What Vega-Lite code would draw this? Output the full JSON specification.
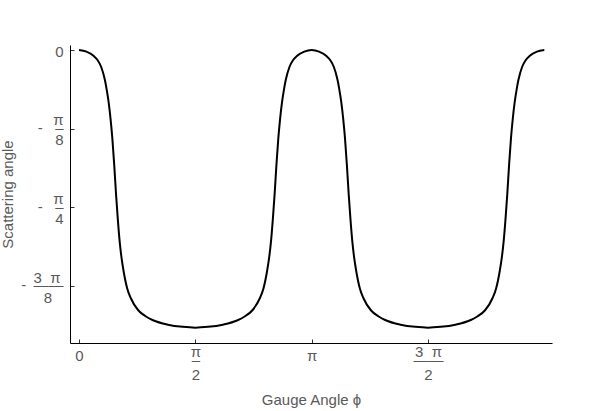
{
  "$schema": "https://vega.github.io/schema/vega-lite/v6.json",
  "width": 482,
  "height": 298,
  "autosize": {"type": "none"},
  "padding": {"left": 70, "top": 45, "right": 48, "bottom": 68},
  "background": "white",
  "config": {"view": {"stroke": null}},
  "data": {"values": [
    {"phi": 0, "theta": 0}, {"phi": 0.1, "theta": -0.008}, {"phi": 0.2, "theta": -0.03}, {"phi": 0.25, "theta": -0.05}, {"phi": 0.3, "theta": -0.085}, {"phi": 0.35, "theta": -0.15}, {"phi": 0.375, "theta": -0.2}, {"phi": 0.4, "theta": -0.26}, {"phi": 0.425, "theta": -0.34}, {"phi": 0.45, "theta": -0.44}, {"phi": 0.475, "theta": -0.57}, {"phi": 0.5, "theta": -0.72}, {"phi": 0.525, "theta": -0.85}, {"phi": 0.55, "theta": -0.96}, {"phi": 0.575, "theta": -1.04}, {"phi": 0.6, "theta": -1.1}, {"phi": 0.65, "theta": -1.19}, {"phi": 0.7, "theta": -1.24}, {"phi": 0.8, "theta": -1.3}, {"phi": 0.9, "theta": -1.33}, {"phi": 1.0, "theta": -1.35}, {"phi": 1.2, "theta": -1.372}, {"phi": 1.4, "theta": -1.383}, {"phi": 1.5708, "theta": -1.387},
    {"phi": 1.7416, "theta": -1.383}, {"phi": 1.9416, "theta": -1.372}, {"phi": 2.1416, "theta": -1.35}, {"phi": 2.2416, "theta": -1.33}, {"phi": 2.3416, "theta": -1.3}, {"phi": 2.4416, "theta": -1.24}, {"phi": 2.4916, "theta": -1.19}, {"phi": 2.5416, "theta": -1.1}, {"phi": 2.5666, "theta": -1.04}, {"phi": 2.5916, "theta": -0.96}, {"phi": 2.6166, "theta": -0.85}, {"phi": 2.6416, "theta": -0.72}, {"phi": 2.6666, "theta": -0.57}, {"phi": 2.6916, "theta": -0.44}, {"phi": 2.7166, "theta": -0.34}, {"phi": 2.7416, "theta": -0.26}, {"phi": 2.7666, "theta": -0.2}, {"phi": 2.7916, "theta": -0.15}, {"phi": 2.8416, "theta": -0.085}, {"phi": 2.8916, "theta": -0.05}, {"phi": 2.9416, "theta": -0.03}, {"phi": 3.0416, "theta": -0.008}, {"phi": 3.1416, "theta": 0},
    {"phi": 3.2416, "theta": -0.008}, {"phi": 3.3416, "theta": -0.03}, {"phi": 3.3916, "theta": -0.05}, {"phi": 3.4416, "theta": -0.085}, {"phi": 3.4916, "theta": -0.15}, {"phi": 3.5166, "theta": -0.2}, {"phi": 3.5416, "theta": -0.26}, {"phi": 3.5666, "theta": -0.34}, {"phi": 3.5916, "theta": -0.44}, {"phi": 3.6166, "theta": -0.57}, {"phi": 3.6416, "theta": -0.72}, {"phi": 3.6666, "theta": -0.85}, {"phi": 3.6916, "theta": -0.96}, {"phi": 3.7166, "theta": -1.04}, {"phi": 3.7416, "theta": -1.1}, {"phi": 3.7916, "theta": -1.19}, {"phi": 3.8416, "theta": -1.24}, {"phi": 3.9416, "theta": -1.3}, {"phi": 4.0416, "theta": -1.33}, {"phi": 4.1416, "theta": -1.35}, {"phi": 4.3416, "theta": -1.372}, {"phi": 4.5416, "theta": -1.383}, {"phi": 4.7124, "theta": -1.387},
    {"phi": 4.8832, "theta": -1.383}, {"phi": 5.0832, "theta": -1.372}, {"phi": 5.2832, "theta": -1.35}, {"phi": 5.3832, "theta": -1.33}, {"phi": 5.4832, "theta": -1.3}, {"phi": 5.5832, "theta": -1.24}, {"phi": 5.6332, "theta": -1.19}, {"phi": 5.6832, "theta": -1.1}, {"phi": 5.7082, "theta": -1.04}, {"phi": 5.7332, "theta": -0.96}, {"phi": 5.7582, "theta": -0.85}, {"phi": 5.7832, "theta": -0.72}, {"phi": 5.8082, "theta": -0.57}, {"phi": 5.8332, "theta": -0.44}, {"phi": 5.8582, "theta": -0.34}, {"phi": 5.8832, "theta": -0.26}, {"phi": 5.9082, "theta": -0.2}, {"phi": 5.9332, "theta": -0.15}, {"phi": 5.9832, "theta": -0.085}, {"phi": 6.0332, "theta": -0.05}, {"phi": 6.0832, "theta": -0.03}, {"phi": 6.1832, "theta": -0.008}, {"phi": 6.2832, "theta": 0}
  ]},
  "mark": {"type": "line", "color": "#000000", "strokeWidth": 2, "interpolate": "monotone", "clip": true},
  "encoding": {
    "x": {
      "field": "phi", "type": "quantitative",
      "scale": {"domain": [-0.1215, 6.387], "nice": false, "zero": false},
      "axis": {
        "values": [0, 1.570796, 3.141593, 4.712389],
        "labelExpr": "datum.value < 0.5 ? ['\u200b', '0'] : datum.value < 2 ? ['\u03c0', '\u200b', '\u2013', '\u200b', '\u200b', '\u200b', '2'] : datum.value < 3.5 ? ['\u200b', '\u03c0'] : ['3\u00a0\u00a0\u03c0', '\u200b', '\u2014\u2014', '\u200b', '\u200b', '\u200b', '2']",
        "grid": false,
        "domainColor": "#000000",
        "domainWidth": 1,
        "tickColor": "#333333",
        "tickSize": -4,
        "labelFlush": false,
        "labelOverlap": false,
        "labelBound": false,
        "labelFont": "Liberation Sans",
        "labelFontSize": 15,
        "labelColor": "#595959",
        "labelBaseline": "top",
        "labelAlign": "center",
        "labelLineHeight": 3.83,
        "labelPadding": 5.85,
        "title": "Gauge Angle \u03d5",
        "titleFont": "Liberation Sans",
        "titleFontSize": 15,
        "titleFontWeight": "normal",
        "titleColor": "#595959",
        "titlePadding": 10
      }
    },
    "y": {
      "field": "theta", "type": "quantitative",
      "scale": {"domain": [-1.4636, 0.025], "nice": false, "zero": false},
      "axis": {
        "values": [0, -0.392699, -0.785398, -1.178097],
        "labelExpr": "datum.value > -0.1 ? ['\u200b', '\u200b', '\u200b', '\u200b', '0'] : datum.value > -0.5 ? ['\u03c0', '\u200b', '\u200b', '-\u00a0\u00a0\u00a0\u2013', '\u200b', '\u200b', '\u200b', '\u200b', '8'] : datum.value > -0.9 ? ['\u03c0', '\u200b', '\u200b', '-\u00a0\u00a0\u00a0\u2013', '\u200b', '\u200b', '\u200b', '\u200b', '4'] : ['3\u00a0\u00a0\u03c0\u2009\u200b', '\u200b', '\u200b', '-\u00a0\u2009\u2014\u2014', '\u200b', '\u200b', '\u200b', '\u200b', '8\u00a0\u00a0\u2009\u200b']",
        "grid": false,
        "domainColor": "#000000",
        "domainWidth": 1,
        "tickColor": "#333333",
        "tickSize": -4,
        "labelOverlap": false,
        "labelBound": false,
        "labelFont": "Liberation Sans",
        "labelFontSize": 15,
        "labelColor": "#595959",
        "labelBaseline": "top",
        "labelAlign": "right",
        "labelLineHeight": 2.5,
        "labelOffset": -15.65,
        "labelPadding": 11,
        "title": "Scattering angle",
        "titleFont": "Liberation Sans",
        "titleFontSize": 15,
        "titleFontWeight": "normal",
        "titleColor": "#595959",
        "titlePadding": 5
      }
    }
  }
}
